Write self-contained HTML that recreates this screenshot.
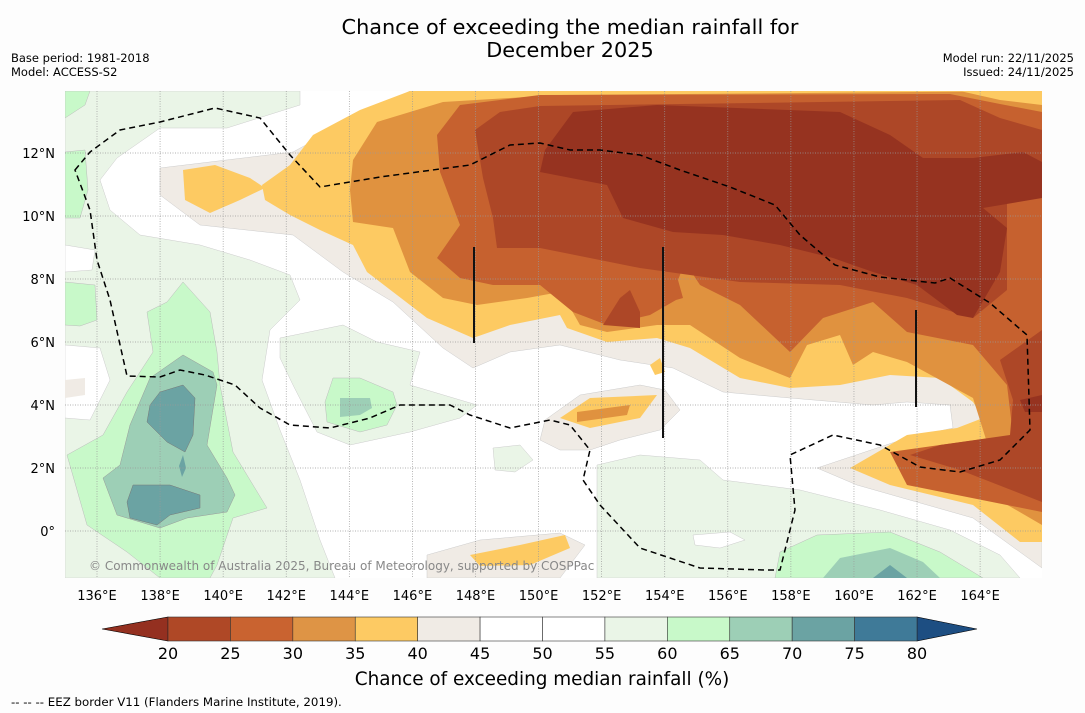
<!DOCTYPE html>
<html><head><meta charset="utf-8"><style>
body{margin:0;background:#fdfdfd;font-family:"DejaVu Sans","Liberation Sans",sans-serif;}
svg{display:block}
</style></head><body>
<svg width="1085" height="713" viewBox="0 0 1085 713" font-family="DejaVu Sans, Liberation Sans, sans-serif">
<rect width="1085" height="713" fill="#fdfdfd"/>
<text x="570" y="34" font-size="20.8" text-anchor="middle">Chance of exceeding the median rainfall for</text>
<text x="570" y="57" font-size="20.8" text-anchor="middle">December 2025</text>
<text x="11" y="62" font-size="11.5">Base period: 1981-2018</text>
<text x="11" y="76" font-size="11.5">Model: ACCESS-S2</text>
<text x="1074" y="62" font-size="11.5" text-anchor="end">Model run: 22/11/2025</text>
<text x="1074" y="76" font-size="11.5" text-anchor="end">Issued: 24/11/2025</text>
<defs><clipPath id="mc"><rect x="65" y="91" width="977" height="487"/></clipPath></defs>
<g clip-path="url(#mc)">
<rect x="65" y="91" width="977" height="487" fill="#ffffff"/>
<path fill="#eaf5e7" stroke="#ccc" stroke-width="0.5" d="M65,91 L300,91 L300,105 L227,128 L160,128 L117,158 L100,180 L110,210 L140,235 L200,245 L250,260 L290,275 L300,300 L270,330 L262,380 L280,430 L300,480 L320,540 L335,578 L65,578 Z"/>
<path fill="#ffffff" stroke="#ccc" stroke-width="0.5" d="M65,245 L95,250 L92,270 L65,272 Z M65,345 L100,348 L110,380 L90,420 L65,418 Z M150,540 L175,530 L190,550 L170,565 L150,560 Z"/>
<path fill="#f0ebe5" d="M65,380 L85,378 L85,395 L65,398 Z"/>
<path fill="#c8f9c9" stroke="#bbb" stroke-width="0.5" d="M65,91 L90,91 L85,105 L65,118 Z M65,152 L85,150 L88,190 L80,218 L65,218 Z M65,282 L95,285 L97,320 L80,326 L65,325 Z M183,282 L210,312 L217,352 L220,385 L233,452 L267,508 L233,518 L217,565 L210,578 L160,578 L127,552 L87,525 L67,455 L103,435 L127,392 L153,352 L147,312 L167,302 Z"/>
<path fill="#9dcfb6" stroke="#999" stroke-width="0.5" d="M183,355 L213,372 L217,385 L207,445 L227,478 L235,495 L227,512 L187,518 L160,528 L117,515 L103,478 L120,465 L130,425 L150,378 Z"/>
<path fill="#6ba3a3" stroke="#777" stroke-width="0.5" d="M160,392 L183,385 L195,398 L193,435 L185,452 L167,442 L147,422 L150,405 Z M133,485 L170,485 L200,495 L200,508 L170,515 L157,525 L130,518 L127,502 Z"/>
<path fill="#6ba3a3" d="M183,455 L186,468 L182,477 L179,466 Z"/>
<path fill="#eaf5e7" stroke="#ccc" stroke-width="0.5" d="M280,338 L343,325 L377,342 L420,352 L410,385 L477,405 L460,418 L410,432 L350,445 L317,432 L293,385 L280,358 Z M493,448 L520,445 L533,460 L515,472 L495,470 Z"/>
<path fill="#c8f9c9" stroke="#bbb" stroke-width="0.5" d="M333,378 L360,378 L393,392 L397,405 L387,425 L360,432 L327,422 L325,402 Z"/>
<path fill="#9dcfb6" d="M340,398 L370,398 L372,408 L360,415 L340,417 Z"/>
<path fill="#eaf5e7" stroke="#ccc" stroke-width="0.5" d="M597,465 L640,455 L700,460 L723,480 L800,490 L880,510 L950,530 L1000,555 L1020,578 L597,578 Z"/>
<path fill="#ffffff" stroke="#ccc" stroke-width="0.5" d="M693,535 L730,532 L745,540 L720,548 L695,545 Z"/>
<path fill="#c8f9c9" stroke="#bbb" stroke-width="0.5" d="M780,552 L817,535 L890,532 L940,552 L983,578 L775,578 Z"/>
<path fill="#9dcfb6" d="M823,578 L840,558 L890,548 L923,562 L940,578 Z"/>
<path fill="#6ba3a3" d="M873,578 L890,565 L907,578 Z"/>
<path fill="#f0ebe5" stroke="#ccc" stroke-width="0.5" d="M160,168 L293,152 L337,128 L410,91 L1042,91 L1042,568 L973,518 L857,485 L817,468 L907,438 L953,428 L950,405 L907,402 L873,405 L790,398 L723,392 L673,368 L620,360 L560,345 L510,352 L473,368 L443,348 L393,302 L343,272 L293,235 L200,225 L160,195 Z"/>
<path fill="#f0ebe5" stroke="#ccc" stroke-width="0.5" d="M545,420 L580,395 L640,385 L665,390 L680,410 L660,430 L620,440 L590,450 L560,450 L540,440 Z M427,555 L480,540 L560,533 L585,545 L560,578 L427,578 Z"/>
<path fill="#fdca62" d="M183,170 L215,165 L250,178 L265,188 L240,200 L210,213 L185,200 Z"/>
<path fill="#fdca62" d="M262,185 L290,165 L313,135 L360,110 L410,91 L1042,91 L1042,542 L1020,542 L973,505 L890,485 L850,468 L907,435 L957,428 L983,418 L973,402 L940,378 L890,375 L840,385 L790,388 L740,378 L690,348 L657,338 L607,342 L567,328 L560,315 L510,325 L473,338 L427,318 L367,272 L353,245 L320,230 L290,215 L265,200 Z"/>
<path fill="#fdca62" d="M560,418 L590,398 L657,395 L640,418 L590,428 Z M470,555 L520,545 L565,535 L570,548 L530,565 L480,566 Z M650,365 L660,358 L665,372 L655,375 Z"/>
<path fill="#e0923f" d="M353,160 L377,122 L443,102 L560,95 L1042,91 L1042,525 L973,485 L907,478 L923,468 L990,452 L973,398 L907,362 L873,352 L853,365 L840,335 L807,345 L790,378 L740,358 L690,325 L657,325 L607,332 L580,325 L567,302 L560,292 L527,298 L477,305 L443,298 L410,272 L393,228 L353,222 L350,190 Z"/>
<path fill="#e0923f" d="M577,412 L630,405 L627,415 L577,422 Z"/>
<path fill="#fdca62" d="M960,91 L1042,91 L1042,105 L1000,100 Z"/>
<path fill="#c6612f" d="M437,135 L460,105 L540,95 L950,94 L1000,104 L1042,112 L1042,512 L907,485 L890,452 L940,445 L1013,435 L1007,385 L973,345 L907,332 L873,302 L823,318 L790,352 L740,305 L700,285 L685,262 L678,280 L683,298 L676,300 L650,315 L607,325 L573,312 L540,285 L493,285 L460,278 L437,258 L460,225 L440,172 Z"/>
<path fill="#ad4727" d="M483,178 L475,130 L500,112 L540,106 L960,100 L1000,118 L1042,130 L1042,190 L1007,192 L1007,290 L973,318 L907,298 L840,285 L740,282 L640,268 L540,248 L497,248 L493,218 Z M1042,330 L1000,360 L1013,400 L1010,435 L940,445 L910,455 L960,470 L1042,502 Z M603,325 L620,298 L630,290 L640,312 L640,328 Z"/>
<path fill="#963320" d="M540,172 L545,150 L573,112 L657,105 L840,112 L890,135 L923,158 L973,158 L1023,152 L1042,162 L1042,198 L983,208 L1007,228 L1000,272 L973,318 L957,315 L917,285 L873,272 L833,258 L780,245 L723,235 L673,232 L623,218 L607,185 Z M1020,400 L1042,395 L1042,412 L1025,412 Z"/>
<g stroke="#999" stroke-width="0.7" stroke-dasharray="1,1.5" id="vgrid"></g>
<g stroke="#999" stroke-width="0.7" stroke-dasharray="1,1.5" id="hgrid"></g>
<g stroke="#111" stroke-width="2">
<line x1="474" y1="247" x2="474" y2="343"/><line x1="663" y1="247" x2="663" y2="438"/><line x1="916" y1="310" x2="916" y2="407"/>
</g>
<path fill="none" stroke="#000" stroke-width="1.5" stroke-dasharray="6,4" d="M75,170 L90,152 L120,130 L160,122 L215,108 L260,118 L290,155 L320,187 L380,177 L470,165 L510,145 L540,143 L570,150 L600,150 L640,155 L680,170 L730,187 L775,205 L800,235 L835,265 L880,277 L935,283 L950,278 L990,303 L1027,335 L1030,430 L1000,460 L960,472 L920,467 L880,445 L833,435 L790,455 L795,510 L780,570 L765,570 L700,568 L640,548 L600,505 L583,480 L590,450 L570,425 L550,420 L510,428 L470,415 L450,405 L400,405 L370,418 L330,428 L290,425 L260,408 L235,385 L205,375 L180,370 L160,377 L127,376 L110,300 L97,260 L90,210 Z"/>
<text x="89" y="570" font-size="12" fill="#888">© Commonwealth of Australia 2025, Bureau of Meteorology, supported by COSPPac</text>
</g>
<g id="axislabels" font-size="13"></g>
<g id="colorbar"></g>
<text x="542" y="685" font-size="18.4" text-anchor="middle">Chance of exceeding median rainfall (%)</text>
<text x="11" y="706" font-size="11.8">--  --  -- EEZ border V11 (Flanders Marine Institute, 2019).</text>
</svg>
<script>
const lonTicks=[136,138,140,142,144,146,148,150,152,154,156,158,160,162,164];
const latTicks=[0,2,4,6,8,10,12];
const cbBounds=[20,25,30,35,40,45,50,55,60,65,70,75,80];
const cbColors=["#af4826","#c96330","#de9445","#fdca63","#f0ebe5","#ffffff","#ffffff","#eaf5e7","#c8f9c9","#9dcfb6","#6ba3a3","#3f7a98"];
const ns="http://www.w3.org/2000/svg";
const xLon=l=>97+(l-136)*31.54;
const yLat=l=>531-l*31.5;
const xCb=v=>168+(v-20)*(917-168)/60;
function mk(t,a,p){const e=document.createElementNS(ns,t);for(const k in a)e.setAttribute(k,a[k]);p.appendChild(e);return e;}
const vg=document.getElementById('vgrid'),hg=document.getElementById('hgrid'),ax=document.getElementById('axislabels'),cb=document.getElementById('colorbar');
lonTicks.forEach(l=>{
 const ln=mk('line',{x1:xLon(l),x2:xLon(l),y1:91,y2:578},vg);
 
 
 const t=mk('text',{x:xLon(l),y:600,'text-anchor':'middle'},ax);t.textContent=l+'°E';
 
 
});
latTicks.forEach(l=>{
 const ln=mk('line',{x1:65,x2:1042,y1:yLat(l),y2:yLat(l)},hg);
 
 
 const t=mk('text',{x:55,y:yLat(l)+5,'text-anchor':'end'},ax);t.textContent=l===0?'0°':l+'°N';
 
 
});
const tl=mk('polygon',{points:`102,629 168,617 168,641`,fill:'#943020',stroke:'#000','stroke-width':0.6},cb);


const tr=mk('polygon',{points:`977,629 917,617 917,641`,fill:'#1d4e82',stroke:'#000','stroke-width':0.6},cb);


cbColors.forEach((c,i)=>{
 const r=mk('rect',{x:xCb(cbBounds[i]),y:617,width:xCb(cbBounds[i+1])-xCb(cbBounds[i]),height:24,fill:c,stroke:'#333','stroke-width':0.6},cb);
 
 
});
cbBounds.forEach(v=>{
 const t=mk('text',{x:xCb(v),y:659,'text-anchor':'middle','font-size':16},cb);t.textContent=v;
 
 
});
</script>
</body></html>
